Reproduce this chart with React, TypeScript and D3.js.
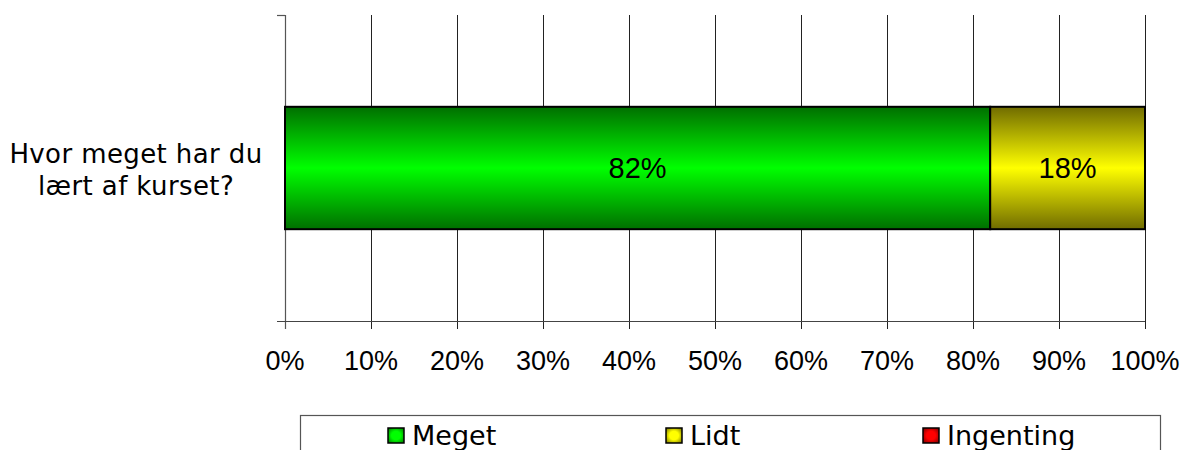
import React from "react";
import * as d3 from "d3";

const categories = ["Hvor meget har du lært af kurset?"];
const categoryLines = [["Hvor meget har du", "lært af kurset?"]];
const seriesNames = ["Meget", "Lidt", "Ingenting"];
const meget = [82];
const lidt = [18];
const ingenting = [0];
const tickValues = [0, 10, 20, 30, 40, 50, 60, 70, 80, 90, 100];

const W = 1183;
const H = 450;
const left = 285;
const right = 1145;
const top = 15;
const bottom = 321;

const colors = [
  { id: "gGreen", dark: "#006f00", light: "#00ff00" },
  { id: "gYellow", dark: "#706c00", light: "#ffff00" },
  { id: "gRed", dark: "#700000", light: "#ff0000" },
];

export default function App() {
  const x = d3.scaleLinear().domain([0, 100]).range([left, right]);
  const y = d3.scaleBand().domain(categories).range([top, bottom]).paddingInner(0).paddingOuter(0);
  const bandH = y.bandwidth();
  const barH = bandH * 0.4;
  const series = [meget, lidt, ingenting];
  const verdana = "Verdana, 'DejaVu Sans', sans-serif";
  const arial = "Arial, 'Liberation Sans', Helvetica, sans-serif";

  return (
    <svg width={W} height={H} style={{ position: "absolute", left: 0, top: 0, background: "#fff" }}>
      <defs>
        {colors.map((c) => (
          <linearGradient key={c.id} id={c.id} x1="0" y1="0" x2="0" y2="1">
            <stop offset="0" stopColor={c.dark} />
            <stop offset="0.5" stopColor={c.light} />
            <stop offset="1" stopColor={c.dark} />
          </linearGradient>
        ))}
        {colors.map((c) => (
          <radialGradient key={c.id + "s"} id={c.id + "s"} cx="0.5" cy="0.5" r="0.7">
            <stop offset="0.4" stopColor={c.light} />
            <stop offset="1" stopColor={c.dark} />
          </radialGradient>
        ))}
      </defs>
      {/* gridlines */}
      {tickValues.slice(1).map((t) => (
        <line key={t} x1={x(t) + 0.5} x2={x(t) + 0.5} y1={top} y2={bottom + 8} stroke="#222" strokeWidth={1} />
      ))}
      {/* left axis */}
      <line x1={left + 0.5} x2={left + 0.5} y1={top} y2={bottom + 8} stroke="#555" strokeWidth={1.2} />
      <line x1={left - 8} x2={left} y1={top + 0.5} y2={top + 0.5} stroke="#555" strokeWidth={1.2} />
      {/* bottom axis */}
      <line x1={left - 8} x2={right} y1={bottom + 0.5} y2={bottom + 0.5} stroke="#444" strokeWidth={1.2} />
      {/* bars */}
      {categories.map((c, ci) => {
        let acc = 0;
        const yc = (y(c) as number) + bandH / 2;
        return (
          <g key={c}>
            {series.map((s, si) => {
              const v = s[ci];
              const x0 = x(acc);
              acc += v;
              const x1 = x(acc);
              if (v <= 0) return null;
              return (
                <g key={si}>
                  <rect x={x0} y={yc - barH / 2} width={x1 - x0} height={barH} fill={`url(#${colors[si].id})`} stroke="#000" strokeWidth={2} />
                  <text x={(x0 + x1) / 2} y={yc + 10} textAnchor="middle" fontFamily={arial} fontSize={29} fill="#000">
                    {v}%
                  </text>
                </g>
              );
            })}
            <text textAnchor="middle" fontFamily={verdana} fontSize={26} fill="#000" letterSpacing={0.4}>
              {categoryLines[ci].map((ln, li) => (
                <tspan key={li} x={136} y={yc - 5 + li * 31.5}>
                  {ln}
                </tspan>
              ))}
            </text>
          </g>
        );
      })}
      {/* tick labels */}
      {tickValues.map((t) => (
        <text key={t} x={x(t)} y={370} textAnchor="middle" fontFamily={arial} fontSize={27} fill="#000">
          {t}%
        </text>
      ))}
      {/* legend */}
      <rect x={300.5} y={415.5} width={860} height={60} fill="#fff" stroke="#555" strokeWidth={1.2} />
      {seriesNames.map((n, i) => {
        const lx = [388, 666, 923][i];
        return (
          <g key={n}>
            <rect x={lx} y={428} width={16} height={15} fill={`url(#${colors[i].id}s)`} stroke="#000" strokeWidth={1.5} />
            <text x={lx + 24} y={445} fontFamily={verdana} fontSize={27} fill="#000">
              {n}
            </text>
          </g>
        );
      })}
    </svg>
  );
}
